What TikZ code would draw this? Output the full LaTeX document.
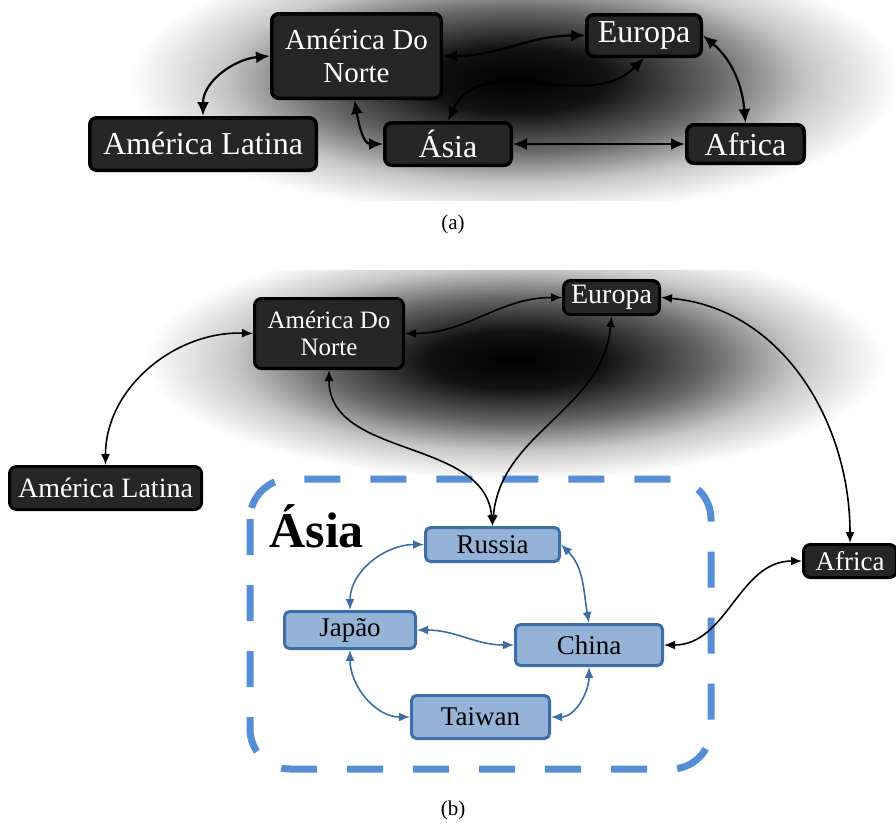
\documentclass[tikz,border=0pt]{standalone}
\usepackage{fontspec}
\setmainfont{LiberationSerif}[Extension=.ttf,UprightFont=*-Regular,BoldFont=*-Bold,ItalicFont=*-Italic,BoldItalicFont=*-BoldItalic]
\usetikzlibrary{arrows.meta}
\definecolor{nodefill}{RGB}{38,38,38}
\definecolor{bluefill}{RGB}{149,179,215}
\definecolor{blueedge}{RGB}{61,110,168}
\definecolor{dashblue}{RGB}{85,142,213}
\definecolor{bluearrow}{RGB}{62,109,166}
\pgfdeclareradialshading{blob}{\pgfpoint{0bp}{0bp}}{color(0bp)=(black); color(6bp)=(black!93); color(13bp)=(black!60); color(19bp)=(black!22); color(25bp)=(white); color(50bp)=(white)}
\tikzset{
  darkbox/.style={draw=black, fill=nodefill, rounded corners=7pt, text=white, inner sep=0pt, align=center},
  bluebox/.style={draw=blueedge, line width=3pt, fill=bluefill, rounded corners=5pt, text=black, inner sep=0pt, font=\fontsize{27}{30}\selectfont},
  arrA/.style={{Latex[length=14pt,width=12pt]}-{Latex[length=14pt,width=12pt]}, line width=2.2pt, black},
  arrB/.style={{Latex[length=11pt,width=9pt]}-{Latex[length=11pt,width=9pt]}, line width=1.6pt, black},
  arrBlue/.style={{Latex[length=11pt,width=9pt]}-{Latex[length=11pt,width=9pt]}, line width=1.6pt, bluearrow},
  dashbox/.style={draw=dashblue, line width=7pt, dash pattern=on 36pt off 30pt, rounded corners=40pt},
  caption/.style={font=\fontsize{21}{24}\selectfont, text=black}
}
\begin{document}
\begin{tikzpicture}[x=1pt,y=1pt]
\useasboundingbox (0,0) rectangle (896,-825);
% shadows
\begin{scope}
\clip (0,0) rectangle (896,-200);
\shade[shading=blob] (515,-80) ellipse [x radius=385, y radius=135];
\end{scope}
\begin{scope}
\clip (0,-270) rectangle (896,-480);
\shade[shading=blob] (515,-360) ellipse [x radius=370, y radius=120];
\end{scope}

% ---------- panel (a) ----------
\node[darkbox, line width=3.5pt, minimum width=169.5pt, minimum height=84.5pt, font=\fontsize{29}{33}\selectfont] (adnA) at (356.5,-56) {América Do\\Norte};
\node[darkbox, line width=3.5pt, minimum width=114.5pt, minimum height=41.5pt, font=\fontsize{32}{34}\selectfont] (eurA) at (644,-35.5) {Europa};
\node[darkbox, line width=3.5pt, minimum width=226.5pt, minimum height=52.5pt, font=\fontsize{32}{34}\selectfont] (alA) at (203,-144) {América Latina};
\node[darkbox, line width=3.5pt, minimum width=126.5pt, minimum height=42.5pt, font=\fontsize{32}{34}\selectfont] (asA) at (448,-144) {Ásia};
\node[darkbox, line width=3.5pt, minimum width=117.5pt, minimum height=38.5pt, font=\fontsize{32}{34}\selectfont, text depth=0pt, text height=22pt] (afA) at (745.5,-144) {Africa};

\draw[arrA] (alA.north) to[out=90,in=185] (adnA.west);
\draw[arrA] ([xshift=-2pt]adnA.south) to[out=-80,in=180] (asA.west);
\draw[arrA] (adnA.east) to[out=0,in=180] (eurA.west);
\draw[arrA] (asA.north) to[out=65,in=225] (eurA.south);
\draw[arrA] (asA.east) -- (afA.west);
\draw[arrA] (eurA.east) to[out=-40,in=95] (afA.north);

\node[caption] (capA) at (453,-224) {(a)};

% ---------- panel (b) ----------
\draw[dashbox] (250,-479) rectangle (711,-769);
\node[anchor=base west, font=\bfseries\fontsize{50}{52}\selectfont] (asiaLbl) at (266,-547) {Ásia};

\node[darkbox, line width=3pt, minimum width=149pt, minimum height=70pt, font=\fontsize{25}{27}\selectfont] (adnB) at (329,-333.5) {América Do\\Norte};
\node[darkbox, line width=3pt, minimum width=96pt, minimum height=34pt, font=\fontsize{28}{30}\selectfont] (eurB) at (611.5,-297.5) {Europa};
\node[darkbox, line width=3pt, minimum width=192pt, minimum height=43pt, font=\fontsize{28}{30}\selectfont] (alB) at (105.5,-488) {América Latina};
\node[darkbox, line width=3pt, minimum width=93pt, minimum height=33pt, font=\fontsize{27}{30}\selectfont] (afB) at (850,-561) {Africa};

\node[bluebox, minimum width=134pt, minimum height=34pt] (rus) at (492.5,-544.5) {Russia};
\node[bluebox, minimum width=131pt, minimum height=37pt] (jap) at (350,-630) {Japão};
\node[bluebox, minimum width=147pt, minimum height=41pt] (chi) at (589,-645) {China};
\node[bluebox, minimum width=138pt, minimum height=43pt] (tai) at (480.5,-717) {Taiwan};

\draw[arrB] (adnB.west) to[out=178,in=90] (alB.north);
\draw[arrB] (adnB.east) to[out=0,in=180] (eurB.west);
\draw[arrB] (adnB.south) to[out=-90,in=95] (rus.north);
\draw[arrB] (eurB.south) to[out=-95,in=85] (rus.north);
\draw[arrB] (eurB.east) to[out=-5,in=90] (afB.north);
\draw[arrB] (chi.east) to[out=0,in=180] (afB.west);

\draw[arrBlue] (rus.west) to[out=180,in=90] (jap.north);
\draw[arrBlue] (rus.east) to[out=-45,in=100] (chi.north);
\draw[arrBlue] (jap.east) to[out=0,in=180] (chi.west);
\draw[arrBlue] (jap.south) to[out=-90,in=180] (tai.west);
\draw[arrBlue] (tai.east) to[out=0,in=-90] (chi.south);

\node[caption] (capB) at (453,-810) {(b)};
\end{tikzpicture}
\end{document}
